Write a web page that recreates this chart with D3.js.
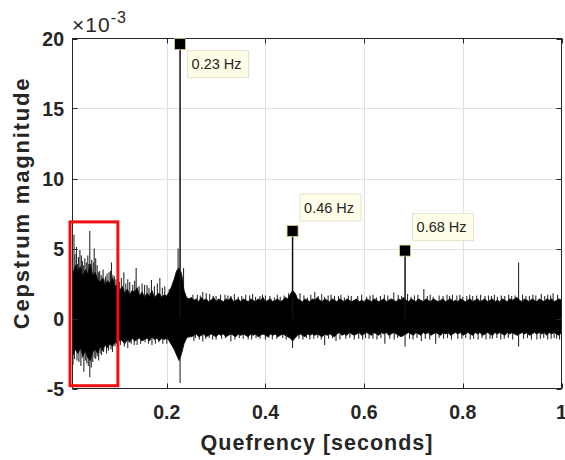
<!DOCTYPE html>
<html><head><meta charset="utf-8">
<script src="https://cdn.jsdelivr.net/npm/d3@7"></script>
<style>
html,body{margin:0;padding:0;background:#fff;}
svg{display:block;}
text{font-family:"Liberation Sans",Arial,Helvetica,sans-serif;}
</style></head>
<body>
<svg id="c" width="565" height="460"></svg>
<script>
// ---- data (cepstrum magnitude in units of 1e-3) ----
const qStart = 0.01, qStep = 0.005;
const upperEnv = [
3.2,3.8,3.4,3.7,3.0,3.5,3.2,3.9,3.1,3.3,
2.8,2.6,2.9,2.4,2.7,2.5,2.9,2.3,2.4,2.0,
2.3,1.8,2.1,1.7,2.0,1.9,2.2,1.6,1.9,1.5,
1.8,1.6,2.0,1.5,1.7,1.8,1.5,1.7,1.6,1.9,
2.3,2.8,3.4,3.6,3.2,2.0,1.5,1.4,1.5,1.3,
1.4,1.2,1.5,1.3,1.4,1.2,1.3,1.5,1.2,1.4,
1.3,1.2,1.4,1.3,1.5,1.2,1.3,1.4,1.2,1.4,
1.3,1.2,1.4,1.3,1.2,1.4,1.3,1.5,1.2,1.3,
1.4,1.2,1.3,1.4,1.2,1.3,1.5,1.4,1.7,2.0,
1.8,1.4,1.3,1.2,1.4,1.3,1.2,1.4,1.3,1.5,
1.3,1.2,1.4,1.3,1.2,1.4,1.3,1.2,1.4,1.3,
1.2,1.4,1.3,1.2,1.3,1.4,1.2,1.3,1.2,1.4,
1.3,1.2,1.4,1.3,1.2,1.3,1.4,1.2,1.3,1.4,
1.3,1.2,1.4,1.3,1.5,1.3,1.2,1.4,1.3,1.2,
1.4,1.3,1.2,1.4,1.3,1.2,1.4,1.3,1.2,1.3,
1.4,1.2,1.3,1.4,1.2,1.3,1.2,1.4,1.3,1.2,
1.3,1.4,1.2,1.3,1.4,1.2,1.3,1.4,1.2,1.3,
1.4,1.2,1.3,1.2,1.4,1.3,1.2,1.4,1.3,1.4,
1.5,1.3,1.2,1.4,1.3,1.2,1.4,1.3,1.2,1.4,
1.3,1.2,1.4,1.3,1.4,1.2,1.3,1.4,1.3];
const lowerEnv = [
-2.6,-2.2,-2.5,-2.1,-2.7,-2.3,-2.8,-3.0,-2.4,-2.2,
-2.5,-2.0,-2.3,-1.9,-2.1,-1.8,-2.0,-1.7,-1.8,-1.5,
-1.6,-1.8,-1.5,-1.7,-1.4,-1.6,-1.5,-1.4,-1.6,-1.5,
-1.4,-1.6,-1.3,-1.5,-1.4,-1.6,-1.4,-1.5,-1.4,-1.6,
-1.9,-2.2,-2.6,-3.0,-2.5,-1.8,-1.4,-1.3,-1.3,-1.2,
-1.1,-1.3,-1.2,-1.1,-1.3,-1.2,-1.1,-1.2,-1.3,-1.1,
-1.2,-1.1,-1.3,-1.2,-1.1,-1.2,-1.3,-1.1,-1.2,-1.1,
-1.2,-1.3,-1.1,-1.2,-1.1,-1.3,-1.2,-1.1,-1.2,-1.3,
-1.1,-1.2,-1.1,-1.3,-1.2,-1.1,-1.2,-1.3,-1.4,-1.6,
-1.4,-1.2,-1.1,-1.2,-1.3,-1.1,-1.2,-1.1,-1.2,-1.1,
-1.2,-1.3,-1.1,-1.2,-1.1,-1.2,-1.3,-1.1,-1.0,-1.2,
-1.1,-1.2,-1.0,-1.1,-1.2,-1.1,-1.0,-1.2,-1.1,-1.0,
-1.1,-1.2,-1.0,-1.1,-1.2,-1.0,-1.1,-1.0,-1.2,-1.1,
-1.0,-1.1,-1.2,-1.3,-1.2,-1.1,-1.0,-1.1,-1.2,-1.0,
-1.1,-1.2,-1.0,-1.1,-1.0,-1.2,-1.1,-1.0,-1.1,-1.2,
-1.0,-1.1,-1.0,-1.2,-1.1,-1.0,-1.1,-1.0,-1.2,-1.1,
-1.0,-1.1,-1.2,-1.0,-1.1,-1.0,-1.2,-1.1,-1.0,-1.1,
-1.2,-1.0,-1.1,-1.0,-1.1,-1.2,-1.0,-1.1,-1.0,-1.1,
-1.2,-1.1,-1.0,-1.1,-1.0,-1.2,-1.1,-1.0,-1.1,-1.0,
-1.1,-1.0,-1.2,-1.0,-1.1,-1.0,-1.1,-1.2,-1.0];
const upSpikes = [
[0.012,6.0],[0.014,4.6],[0.017,5.1],[0.019,3.9],[0.021,4.4],[0.024,4.9],[0.027,4.5],[0.029,4.1],
[0.031,3.8],[0.034,4.3],[0.037,4.0],[0.040,4.5],[0.042,3.9],[0.044,6.25],[0.048,4.2],[0.051,4.0],
[0.053,5.0],[0.056,4.3],[0.059,3.8],[0.062,3.3],[0.064,3.4],[0.067,3.1],[0.071,3.5],[0.073,2.8],
[0.076,3.0],[0.079,3.2],[0.083,3.3],[0.086,3.4],[0.088,4.0],[0.091,3.1],[0.094,3.0],[0.097,2.8],
[0.104,2.6],[0.108,2.9],[0.113,3.3],[0.117,2.5],[0.121,2.8],[0.125,2.6],[0.131,2.4],[0.135,2.7],
[0.138,3.6],[0.144,2.3],[0.150,2.5],[0.155,2.4],[0.160,2.4],[0.164,2.2],[0.169,2.75],[0.175,2.3],
[0.181,2.5],[0.186,2.9],[0.191,2.2],[0.196,2.3],[0.205,2.1],[0.223,5.0],[0.234,3.6],
[0.253,1.7],[0.262,1.7],[0.268,1.65],[0.273,1.9],[0.280,1.8],[0.287,1.75],[0.294,1.6],[0.300,1.6],
[0.309,1.7],[0.318,1.7],[0.324,1.65],[0.330,1.6],[0.337,1.75],[0.345,1.55],[0.352,1.6],[0.360,1.7],
[0.368,1.65],[0.374,1.75],[0.380,1.55],[0.389,1.6],[0.394,1.7],[0.400,1.65],[0.409,1.6],[0.418,1.5],
[0.424,1.7],[0.430,1.55],[0.438,1.65],[0.447,1.8],[0.462,1.7],[0.470,1.8],[0.478,1.65],[0.485,1.5],
[0.492,1.7],[0.500,1.9],[0.507,1.6],[0.514,1.75],[0.520,1.55],[0.527,1.65],[0.533,1.7],[0.540,1.6],
[0.548,1.6],[0.553,1.7],[0.560,1.5],[0.568,1.65],[0.574,1.6],[0.587,1.6],[0.595,1.7],[0.605,1.55],
[0.612,1.65],[0.618,1.7],[0.625,1.5],[0.633,1.6],[0.641,1.7],[0.648,1.65],[0.660,1.85],[0.669,1.7],
[0.676,1.6],[0.688,1.75],[0.695,1.55],[0.702,1.65],[0.709,1.7],[0.721,2.1],[0.728,1.6],[0.734,1.7],
[0.740,1.55],[0.752,1.65],[0.760,1.6],[0.768,1.7],[0.773,1.6],[0.779,1.7],[0.788,1.65],[0.794,1.7],
[0.800,1.55],[0.808,1.6],[0.814,1.7],[0.820,1.6],[0.828,1.65],[0.836,1.7],[0.845,1.6],[0.852,1.65],
[0.858,1.6],[0.864,1.7],[0.870,1.55],[0.878,1.65],[0.885,1.6],[0.893,1.7],[0.899,1.6],[0.906,1.65],
[0.913,4.0],[0.921,1.7],[0.928,1.6],[0.935,1.6],[0.942,1.7],[0.948,1.65],[0.959,1.75],[0.966,1.6],
[0.972,1.7],[0.978,1.65],[0.983,1.8],[0.992,1.7]];
const downSpikes = [
[0.010,-3.3],[0.013,-2.9],[0.018,-3.0],[0.022,-3.1],[0.026,-3.4],[0.029,-2.8],[0.032,-3.8],[0.035,-3.0],
[0.038,-3.2],[0.041,-3.4],[0.044,-4.2],[0.047,-3.5],[0.050,-3.1],[0.053,-2.8],[0.056,-2.9],[0.059,-2.7],
[0.062,-3.0],[0.065,-2.5],[0.068,-2.6],[0.072,-2.4],[0.078,-2.5],[0.082,-2.3],[0.087,-2.2],[0.090,-2.4],
[0.095,-2.0],[0.106,-1.9],[0.114,-2.0],[0.121,-2.1],[0.128,-1.8],[0.134,-1.9],[0.140,-1.9],[0.147,-1.8],
[0.156,-1.7],[0.163,-1.8],[0.170,-1.9],[0.177,-1.8],[0.184,-1.7],[0.192,-1.8],[0.200,-1.8],[0.227,-4.6],
[0.255,-1.6],[0.258,-1.4],[0.266,-1.5],[0.273,-1.65],[0.279,-1.45],[0.286,-1.4],[0.293,-1.5],[0.300,-1.5],
[0.311,-1.45],[0.319,-1.4],[0.330,-1.65],[0.338,-1.5],[0.347,-1.4],[0.355,-1.45],[0.365,-1.5],[0.372,-1.5],
[0.381,-1.4],[0.389,-1.45],[0.400,-1.5],[0.407,-1.4],[0.414,-1.5],[0.423,-1.45],[0.435,-1.4],[0.442,-1.5],
[0.455,-2.1],[0.468,-1.45],[0.476,-1.5],[0.483,-1.4],[0.490,-1.5],[0.498,-1.45],[0.506,-1.4],[0.513,-1.5],
[0.520,-1.9],[0.528,-1.45],[0.536,-1.4],[0.543,-1.6],[0.551,-1.5],[0.563,-1.45],[0.571,-1.4],[0.580,-1.5],
[0.589,-1.45],[0.597,-1.5],[0.603,-1.4],[0.610,-1.45],[0.618,-1.45],[0.626,-1.5],[0.634,-1.4],[0.642,-1.8],
[0.652,-1.45],[0.661,-1.5],[0.668,-1.4],[0.683,-2.0],[0.692,-1.45],[0.699,-1.5],[0.707,-1.4],[0.716,-1.6],
[0.724,-1.45],[0.733,-1.5],[0.745,-1.8],[0.752,-1.4],[0.761,-1.45],[0.769,-1.4],[0.777,-1.5],[0.790,-1.45],
[0.798,-1.45],[0.806,-1.4],[0.815,-1.5],[0.822,-1.45],[0.831,-1.5],[0.839,-1.4],[0.847,-1.5],[0.855,-1.45],
[0.860,-1.45],[0.869,-1.4],[0.877,-1.5],[0.884,-1.45],[0.892,-1.4],[0.901,-1.5],[0.913,-2.0],[0.923,-1.45],
[0.931,-1.4],[0.939,-1.5],[0.950,-1.5],[0.957,-1.45],[0.964,-1.4],[0.972,-1.5],[0.979,-1.45],[0.985,-1.4],
[0.990,-1.45],[0.996,-1.5]];
const peakQ = [0.227, 0.455, 0.683];
const peakVal = [19.6, 6.25, 4.85];
const peakLabels = ["0.23 Hz", "0.46 Hz", "0.68 Hz"];
const xTicks = [0.2, 0.4, 0.6, 0.8, 1];
const yTicks = [-5, 0, 5, 10, 15, 20];
const highlightQ = [0.004, 0.101];
const highlightV = [-4.8, 6.9];

// ---- chart ----
const svg = d3.select("#c");
const L = 72.5, R = 561.5, T = 38.5, B = 388.5;
const x = d3.scaleLinear().domain([0.009, 1]).range([L, R]);
const y = d3.scaleLinear().domain([-5, 20]).range([B, T]);

// grid
svg.append("g").selectAll("line").data(xTicks.filter(t => t < 1)).join("line")
  .attr("x1", d => Math.round(x(d)) + 0.5).attr("x2", d => Math.round(x(d)) + 0.5)
  .attr("y1", T).attr("y2", B).attr("stroke", "#e0e0e0").attr("stroke-width", 1);
svg.append("g").selectAll("line").data(yTicks.filter(t => t > -5 && t < 20)).join("line")
  .attr("y1", d => Math.round(y(d)) + 0.5).attr("y2", d => Math.round(y(d)) + 0.5)
  .attr("x1", L).attr("x2", R).attr("stroke", "#e0e0e0").attr("stroke-width", 1);

// signal band
const pts = upperEnv.map((u, i) => ({q: qStart + i * qStep, u, l: lowerEnv[i]}));
const plot = svg.append("g");
plot.append("g").selectAll("line").data(upSpikes.concat(downSpikes)).join("line")
  .attr("x1", d => x(d[0])).attr("x2", d => x(d[0]))
  .attr("y1", y(0)).attr("y2", d => y(d[1]))
  .attr("stroke", "#2a2a2a").attr("stroke-width", 1.1);
plot.append("path").datum(pts)
  .attr("d", d3.area().x(d => x(d.q)).y0(d => y(d.l)).y1(d => y(d.u)))
  .attr("fill", "#000").attr("stroke", "#111").attr("stroke-width", 1);
// peak stems
plot.append("g").selectAll("line").data(peakQ).join("line")
  .attr("x1", d => x(d)).attr("x2", d => x(d))
  .attr("y1", y(0)).attr("y2", (d, i) => y(peakVal[i]))
  .attr("stroke", "#111").attr("stroke-width", 1.5);

// axes box
const ax = svg.append("g").attr("stroke", "#262626").attr("stroke-width", 1).attr("fill", "none");
ax.append("rect").attr("x", L).attr("y", T).attr("width", R - L).attr("height", B - T);
xTicks.forEach(t => {
  const px = Math.round(x(t)) + 0.5;
  ax.append("line").attr("x1", px).attr("x2", px).attr("y1", B).attr("y2", B - 5);
  ax.append("line").attr("x1", px).attr("x2", px).attr("y1", T).attr("y2", T + 5);
});
yTicks.forEach(t => {
  const py = Math.round(y(t)) + 0.5;
  ax.append("line").attr("x1", L).attr("x2", L + 5).attr("y1", py).attr("y2", py);
  ax.append("line").attr("x1", R).attr("x2", R - 5).attr("y1", py).attr("y2", py);
});

// tick labels
svg.append("g").selectAll("text").data(xTicks).join("text")
  .attr("x", d => x(d)).attr("y", 418.5).attr("text-anchor", "middle")
  .attr("font-size", 19.5).attr("font-weight", "bold").attr("fill", "#262626")
  .text(d => d3.format("")(d));
svg.append("g").selectAll("text").data(yTicks).join("text")
  .attr("x", 64).attr("y", d => y(d) + 7).attr("text-anchor", "end")
  .attr("font-size", 19.5).attr("font-weight", "bold").attr("fill", "#262626")
  .text(d => d);

// exponent
const ex = svg.append("text").attr("x", 72).attr("y", 32).attr("font-size", 21)
  .attr("letter-spacing", 1).attr("fill", "#262626");
ex.append("tspan").text("\u00d710");
ex.append("tspan").attr("dy", -9).attr("font-size", 16).text("-3");

// axis titles
svg.append("text").attr("x", 317).attr("y", 450).attr("text-anchor", "middle")
  .attr("font-size", 21.5).attr("letter-spacing", 1).attr("font-weight", "bold").attr("fill", "#262626")
  .text("Quefrency [seconds]");
svg.append("text").attr("transform", `translate(29,203) rotate(-90)`)
  .attr("text-anchor", "middle")
  .attr("font-size", 22).attr("letter-spacing", 1.8).attr("font-weight", "bold").attr("fill", "#262626")
  .text("Cepstrum magnitude");

// highlight rectangle
svg.append("rect")
  .attr("x", x(highlightQ[0])).attr("y", y(highlightV[1]))
  .attr("width", x(highlightQ[1]) - x(highlightQ[0]))
  .attr("height", y(highlightV[0]) - y(highlightV[1]))
  .attr("fill", "none").attr("stroke", "#f01010").attr("stroke-width", 3);

// markers and data tips
peakQ.forEach((q, i) => {
  const px = x(q), py = y(peakVal[i]);
  svg.append("rect").attr("x", px - 5.5).attr("y", py - 5.5).attr("width", 11).attr("height", 11)
    .attr("fill", "#000").attr("stroke", "#d9cf86").attr("stroke-width", 0.8);
  const bw = 61, bh = 27;
  const bx = px + 7.5;
  const by = (py - 37 < T) ? py + 6.5 : py - 37;
  svg.append("rect").attr("x", bx).attr("y", by).attr("width", bw).attr("height", bh)
    .attr("fill", "#fefee9").attr("stroke", "#e3e3cf").attr("stroke-width", 1);
  svg.append("text").attr("x", bx + 4).attr("y", by + 18.5)
    .attr("font-size", 14.5).attr("fill", "#262626").text(peakLabels[i]);
});
</script>
</body></html>
